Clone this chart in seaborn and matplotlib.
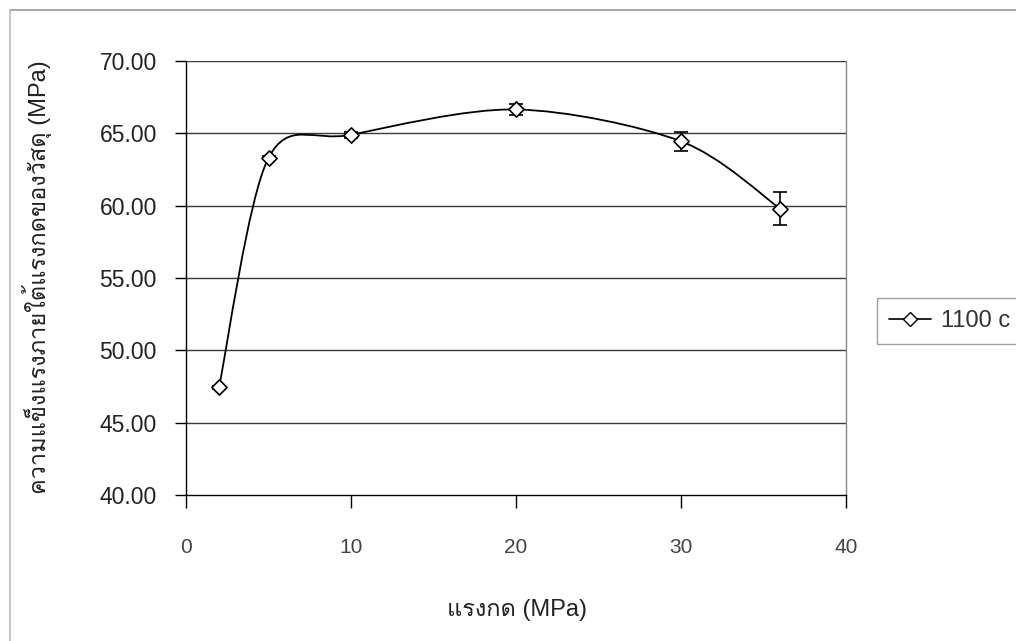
import numpy as np
import pandas as pd
import matplotlib
matplotlib.use("Agg")
import matplotlib.pyplot as plt
from matplotlib import font_manager, ft2font
from matplotlib.path import Path
from matplotlib.patches import PathPatch
from matplotlib.lines import Line2D
import seaborn as sns

# ---- data ----
pressure = [2, 5, 10, 20, 30, 36]
strength = [47.45, 63.30, 64.90, 66.65, 64.45, 59.80]
errors = [0.10, 0.10, 0.20, 0.35, 0.65, 1.15]
series_name = "1100 c"
x_ticks = [0, 10, 20, 30, 40]
y_ticks = [40, 45, 50, 55, 60, 65, 70]
x_label = "แรงกด (MPa)"
y_label = "ความแข็งแรงภายใต้แรงกดของวัสดุ (MPa)"

# ---- fonts ----
sns.set_theme(style="white")
thai_font = None
for f in font_manager.fontManager.ttflist:
    try:
        cm = ft2font.FT2Font(f.fname).get_charmap()
        if ord("ร") in cm and ord("ง") in cm and ord("ค") in cm:
            thai_font = f.name
            break
    except Exception:
        pass
fams = ["Liberation Sans"]
if thai_font:
    fams.append(thai_font)
fams.append("DejaVu Sans")
plt.rcParams["font.family"] = fams

W, H = 1016, 641
fig = plt.figure(figsize=(W / 100, H / 100), dpi=100)
fig.patch.set_facecolor("white")
ax = fig.add_axes([186 / W, 1 - 495 / H, 660 / W, 434 / H])
ax.set_facecolor("white")

df = pd.DataFrame({"x": pressure, "y": strength, "err": errors})

# smoothed line (Bezier path through the data, like a spreadsheet "smoothed line")
pts = np.column_stack([df["x"].to_numpy(float), df["y"].to_numpy(float)])
verts = [tuple(pts[0])]
codes = [Path.MOVETO]
n = len(pts)
k = 1 / 6.5
for i in range(n - 1):
    p0 = pts[i - 1] if i > 0 else pts[i]
    p1 = pts[i]
    p2 = pts[i + 1]
    p3 = pts[i + 2] if i + 2 < n else pts[i + 1]
    c1 = p1 + (p2 - p0) * k
    c2 = p2 - (p3 - p1) * k
    verts += [tuple(c1), tuple(c2), tuple(p2)]
    codes += [Path.CURVE4] * 3
ax.add_patch(PathPatch(Path(verts, codes), facecolor="none", edgecolor="black",
                       lw=1.3, zorder=3))

ax.errorbar(df["x"], df["y"], yerr=df["err"], fmt="none", ecolor="black",
            elinewidth=1.2, capsize=5, capthick=1.2, zorder=4)
sns.scatterplot(data=df, x="x", y="y", marker="D", s=60, color="white",
                edgecolor="black", linewidth=1.2, zorder=5, ax=ax, legend=False)

ax.set_xlim(0, 40)
ax.set_ylim(40, 70)
ax.set_xticks(x_ticks)
ax.set_yticks(y_ticks)
ax.set_yticklabels([f"{v:.2f}" for v in y_ticks])
ax.grid(False)
for v in y_ticks[1:]:
    ax.axhline(v, color="#3a3a3a", lw=1.0, zorder=1)

ax.spines["top"].set_visible(False)
ax.spines["right"].set_color("#888888")
ax.spines["right"].set_linestyle((0, (1, 1)))
ax.spines["right"].set_linewidth(1.0)
for s in ["left", "bottom"]:
    ax.spines[s].set_color("black")
    ax.spines[s].set_linewidth(1.0)

ax.tick_params(axis="y", direction="out", length=8, width=1, color="black",
               labelsize=16.5, labelcolor="#222222", pad=13, left=True)
ax.tick_params(axis="x", direction="out", length=9, width=1, color="black",
               labelsize=15, labelcolor="#444444", pad=22, bottom=True)

ax.set_xlabel(x_label, fontsize=17, color="#222222", va="center")
ax.set_ylabel(y_label, fontsize=17, color="#222222", va="center")
ax.xaxis.set_label_coords((517 - 186) / 660, (495 - 610) / 434)
ax.yaxis.set_label_coords((37 - 186) / 660, (495 - 277) / 434)

handle = Line2D([0], [0], color="black", lw=1.2, marker="D", markersize=7,
                markerfacecolor="white", markeredgecolor="black")
leg = fig.legend([handle], [series_name], loc="center left",
                 bbox_to_anchor=(877 / W, 1 - 321 / H), frameon=True,
                 fancybox=False, edgecolor="#888888", fontsize=17,
                 handlelength=1.8, handletextpad=0.4, borderpad=0.5,
                 borderaxespad=0)
leg.get_frame().set_linewidth(1.0)
for t in leg.get_texts():
    t.set_color("#333333")

# outer chart border
fig.add_artist(Line2D([10 / W, 1], [1 - 10 / H, 1 - 10 / H], transform=fig.transFigure,
                      color="#999999", lw=1.2))
fig.add_artist(Line2D([10 / W, 10 / W], [0, 1 - 10 / H], transform=fig.transFigure,
                      color="#bbbbbb", lw=1.2))

fig.savefig("out.png", dpi=100)
